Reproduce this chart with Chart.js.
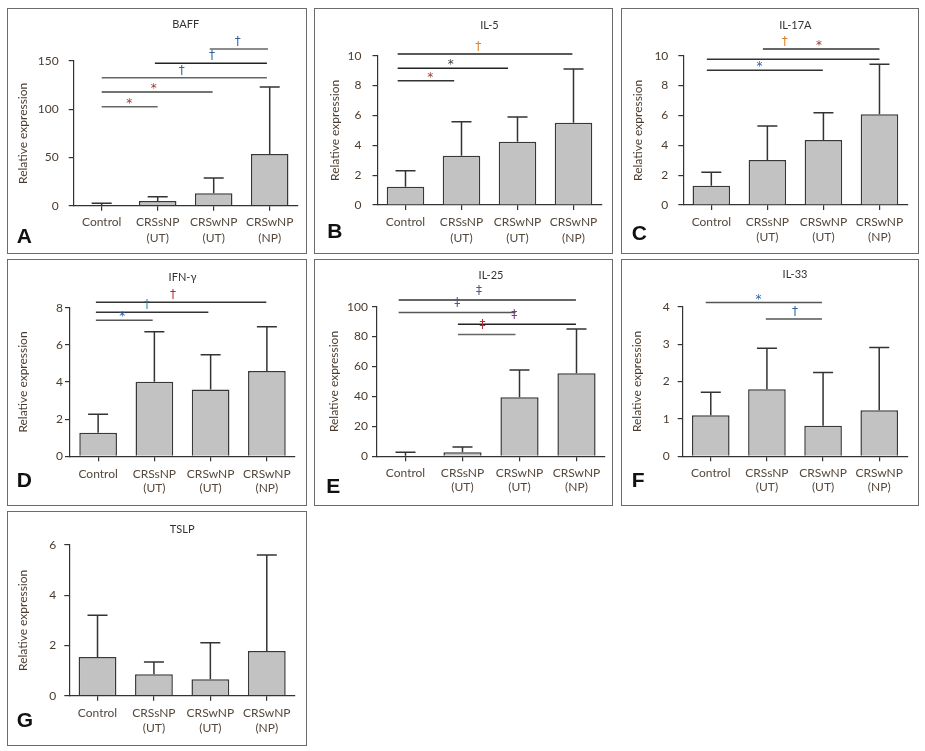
<!DOCTYPE html>
<html>
<head>
<meta charset="utf-8">
<script src="https://cdn.jsdelivr.net/npm/chart.js@4.4.1/dist/chart.umd.min.js"></script>
<style>
  body { margin: 0; background: #fff; width: 925px; height: 751px; position: relative; overflow: hidden; }
  .panel { position: absolute; border: 1px solid #6b6b6b; box-sizing: border-box; background: #fff; }
  .panel canvas { position: absolute; left: 0; top: 0; }
</style>
</head>
<body>
<script>
/************************************************************
    DATA
*************************************************************/
var categories = ['Control', ['CRSsNP', '(UT)'], ['CRSwNP', '(UT)'], ['CRSwNP', '(NP)']];

var baffMean = [0.8, 4.9, 12.8, 53.6];
var baffSD   = [1.7, 4.4, 15.9, 69.4];
var il5Mean  = [1.23, 3.3, 4.24, 5.51];
var il5SD    = [1.07, 2.28, 1.65, 3.6];
var il17Mean = [1.29, 3.01, 4.35, 6.07];
var il17SD   = [0.9, 2.28, 1.83, 3.35];
var ifnMean  = [1.27, 4.02, 3.59, 4.59];
var ifnSD    = [1.0, 2.69, 1.88, 2.39];
var il25Mean = [0.3, 2.67, 39.4, 55.5];
var il25SD   = [2.37, 3.53, 18.3, 29.6];
var il33Mean = [1.10, 1.79, 0.82, 1.23];
var il33SD   = [0.61, 1.1, 1.42, 1.68];
var tslpMean = [1.54, 0.85, 0.65, 1.78];
var tslpSD   = [1.66, 0.49, 1.46, 3.82];

// significance lines: [from category, to category, y value, colour]
var baffLines = [[1.93, 2.97, 162.4, '#666'], [0.95, 2.95, 147.6, '#222'], [0, 2.95, 132.7, '#666'], [0, 1.98, 117.9, '#444'], [0, 1.0, 102.6, '#666']];
var il5Lines  = [[-0.14, 2.98, 10.11, '#222'], [-0.14, 1.83, 9.16, '#222'], [-0.14, 0.87, 8.33, '#333']];
var il17Lines = [[0.92, 3.0, 10.45, '#333'], [-0.08, 3.0, 9.76, '#333'], [-0.08, 1.99, 9.02, '#333']];
var ifnLines  = [[-0.04, 2.99, 8.29, '#333'], [-0.04, 1.96, 7.75, '#333'], [-0.04, 0.97, 7.32, '#555']];
var il25Lines = [[-0.12, 2.99, 104.5, '#333'], [-0.12, 1.93, 96.2, '#555'], [0.92, 2.99, 88.2, '#222'], [0.92, 1.93, 81.5, '#666']];
var il33Lines = [[-0.09, 1.98, 4.11, '#555'], [0.98, 1.98, 3.67, '#555']];
var tslpLines = [];

// significance marks: [category position, y value of its line, symbol, colour]
var BROWN = '#9a3b2a', BLUE = '#2f5fa5', ORANGE = '#d9822b', TEAL = '#2a8aa0', RED = '#b03030', PURPLE = '#7a3a8a', DARK = '#3a3a3a';
var baffMarks = [[2.43, 162.4, '†', BLUE], [1.97, 147.6, '†', BLUE], [1.43, 132.7, '†', BLUE], [0.93, 117.9, '*', BROWN], [0.49, 102.6, '*', BROWN]];
var il5Marks  = [[1.3, 10.11, '†', ORANGE], [0.81, 9.16, '*', DARK], [0.44, 8.33, '*', BROWN]];
var il17Marks = [[1.31, 10.45, '†', ORANGE], [1.92, 10.45, '*', BROWN], [0.86, 9.02, '*', BLUE]];
var ifnMarks  = [[1.33, 8.29, '†', RED], [0.87, 7.75, '†', TEAL], [0.43, 7.32, '*', BLUE]];
var il25Marks = [[1.29, 104.5, '‡', '#4a5a8a'], [0.91, 96.2, '‡', BLUE], [1.91, 88.2, '‡', PURPLE], [1.35, 81.5, '‡', RED]];
var il33Marks = [[0.85, 4.11, '*', BLUE], [1.5, 3.67, '†', BLUE]];
var tslpMarks = [];

/************************************************************
    PANELS
*************************************************************/
var FONT = 'Lato, "Open Sans", sans-serif';
var MARK_FONT = '"DejaVu Sans", sans-serif';
var TICK_COLOR = '#4a3b2e';
var MARK_LIFT = { '*': 0, '†': 4, '‡': 6 };

var panels = [
  { letter: 'A', title: 'BAFF',   mean: baffMean, sd: baffSD, lines: baffLines, marks: baffMarks, max: 150, step: 50,
    box: [7, 8, 300, 246],   area: [73.7, 61, 297.7, 205.7],   yPad: 10, yTitleX: 14.7, xPad: 3,   xLine: 16,   titleY: 15.3, letterAt: [8.7, 233.7] },
  { letter: 'B', title: 'IL-5',   mean: il5Mean, sd: il5SD, lines: il5Lines, marks: il5Marks, max: 10, step: 2,
    box: [314, 8, 299, 246], area: [377.5, 55.7, 601.5, 205],   yPad: 11, yTitleX: 19.7, xPad: 3.5, xLine: 16.3, titleY: 16,   letterAt: [12.3, 229] },
  { letter: 'C', title: 'IL-17A', mean: il17Mean, sd: il17SD, lines: il17Lines, marks: il17Marks, max: 10, step: 2,
    box: [621, 8, 298, 246], area: [683.3, 55.7, 907.5, 205],   yPad: 10, yTitleX: 16.3, xPad: 3.9, xLine: 15.6, titleY: 16,   letterAt: [9.7, 231] },
  { letter: 'D', title: 'IFN-γ',  mean: ifnMean, sd: ifnSD, lines: ifnLines, marks: ifnMarks, max: 8, step: 2,
    box: [7, 259, 300, 247], area: [70, 307.7, 295, 456.3],     yPad: 2,  yTitleX: 14.7, xPad: 5.5, xLine: 14.3, titleY: 17.3, letterAt: [8.7, 226.7] },
  { letter: 'E', title: 'IL-25',  mean: il25Mean, sd: il25SD, lines: il25Lines, marks: il25Marks, max: 100, step: 20,
    box: [314, 259, 299, 247], area: [377, 306.7, 605, 456.3],  yPad: 4,  yTitleX: 19,   xPad: 5,   xLine: 14,   titleY: 15.7, letterAt: [11.3, 233.3] },
  { letter: 'F', title: 'IL-33',  mean: il33Mean, sd: il33SD, lines: il33Lines, marks: il33Marks, max: 4, step: 1,
    box: [621, 259, 298, 247], area: [682.7, 306.7, 907.3, 456.3], yPad: 8, yTitleX: 14.7, xPad: 5,   xLine: 14,   titleY: 14.3, letterAt: [9.7, 226.7] },
  { letter: 'G', title: 'TSLP',   mean: tslpMean, sd: tslpSD, lines: tslpLines, marks: tslpMarks, max: 6, step: 2,
    box: [7, 511, 300, 235], area: [69.3, 545, 295, 695.7],     yPad: 8,  yTitleX: 14.7, xPad: 4.5, xLine: 15,   titleY: 17,   letterAt: [8.7, 214.7] }
];

/* ------------------
  error bars, significance lines, title, panel letter
-------------------*/
function extrasPlugin(p) {
  return {
    id: 'extras',
    afterDatasetsDraw: function (chart) {
      var ctx = chart.ctx, xs = chart.scales.x, ys = chart.scales.y;
      var meta = chart.getDatasetMeta(0);
      ctx.save();
      ctx.lineWidth = 1.5;
      ctx.strokeStyle = '#333';
      p.mean.forEach(function (m, i) {
        var cx = meta.data[i].x;
        var y0 = ys.getPixelForValue(m), y1 = ys.getPixelForValue(m + p.sd[i]);
        ctx.beginPath();
        ctx.moveTo(cx, y0); ctx.lineTo(cx, y1);
        ctx.moveTo(cx - 10, y1); ctx.lineTo(cx + 10, y1);
        ctx.stroke();
      });

      p.lines.forEach(function (l) {
        var y = ys.getPixelForValue(l[2]);
        ctx.strokeStyle = l[3];
        ctx.beginPath();
        ctx.moveTo(xs.getPixelForValue(l[0]), y);
        ctx.lineTo(xs.getPixelForValue(l[1]), y);
        ctx.stroke();
      });

      ctx.textAlign = 'center';
      ctx.textBaseline = 'alphabetic';
      ctx.font = '12px ' + MARK_FONT;
      p.marks.forEach(function (mk) {
        ctx.fillStyle = mk[3];
        ctx.fillText(mk[2], xs.getPixelForValue(mk[0]), ys.getPixelForValue(mk[1]) - MARK_LIFT[mk[2]]);
      });

      ctx.fillStyle = '#333';
      ctx.font = '11px ' + FONT;
      ctx.textBaseline = 'middle';
      ctx.fillText(p.title, (chart.chartArea.left + chart.chartArea.right) / 2, p.titleY);

      ctx.fillStyle = '#111';
      ctx.font = 'bold 21px "Liberation Sans", Arial, sans-serif';
      ctx.textAlign = 'left';
      ctx.textBaseline = 'alphabetic';
      ctx.fillText(p.letter, p.letterAt[0], p.letterAt[1]);
      ctx.restore();
    }
  };
}

panels.forEach(function (p) {
  var div = document.createElement('div');
  div.className = 'panel';
  div.style.left = p.box[0] + 'px';
  div.style.top = p.box[1] + 'px';
  div.style.width = p.box[2] + 'px';
  div.style.height = p.box[3] + 'px';
  var cw = p.box[2] - 2, ch = p.box[3] - 2;
  var ox = p.box[0] + 1, oy = p.box[1] + 1;
  var canvas = document.createElement('canvas');
  canvas.width = cw; canvas.height = ch;
  canvas.style.width = cw + 'px'; canvas.style.height = ch + 'px';
  div.appendChild(canvas);
  document.body.appendChild(div);

  var yWidth = p.area[0] - ox;
  var xHeight = ch - (p.area[3] - oy);

  new Chart(canvas, {
    type: 'bar',
    data: {
      labels: categories,
      datasets: [{
        data: p.mean,
        backgroundColor: '#c2c2c2',
        borderColor: '#383838',
        borderWidth: 1.5,
        barPercentage: 0.67,
        categoryPercentage: 1
      }]
    },
    options: {
      responsive: false,
      animation: false,
      events: [],
      layout: { padding: { top: p.area[1] - oy, right: cw - (p.area[2] - ox), left: 0, bottom: 0 } },
      plugins: { legend: { display: false }, tooltip: { enabled: false } },
      scales: {
        x: {
          afterFit: function (s) { s.height = xHeight; },
          grid: { drawOnChartArea: false, offset: false, tickLength: 5, color: '#333', lineWidth: 1.2 },
          border: { color: '#333', width: 1.2 },
          ticks: { color: '#55483c', padding: p.xPad, maxRotation: 0, autoSkip: false,
                   font: { family: FONT, size: 12, lineHeight: p.xLine + 'px' } }
        },
        y: {
          min: 0, max: p.max,
          afterFit: function (s) { s.width = yWidth; },
          grid: { drawOnChartArea: false, tickLength: 5, color: '#333', lineWidth: 1.2 },
          border: { color: '#333', width: 1.2 },
          ticks: { stepSize: p.step, color: TICK_COLOR, padding: p.yPad, font: { family: FONT, size: 12 } },
          title: { display: true, text: 'Relative expression', color: TICK_COLOR,
                   font: { family: FONT, size: 12, lineHeight: 1.2 }, padding: { top: p.yTitleX - 7.2, bottom: 0 } }
        }
      }
    },
    plugins: [extrasPlugin(p)]
  });
});
</script>
</body>
</html>
